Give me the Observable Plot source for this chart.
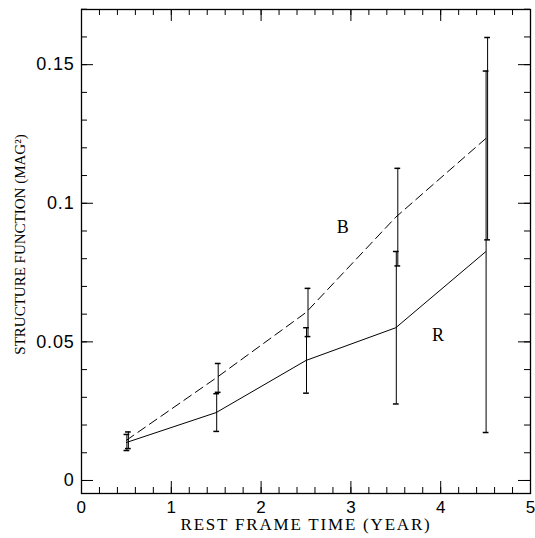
<!DOCTYPE html>
<html>
<head>
<meta charset="utf-8">
<script src="https://cdn.jsdelivr.net/npm/d3@7"></script>
<script src="https://cdn.jsdelivr.net/npm/@observablehq/plot@0.6"></script>
<style>
  html, body { margin: 0; padding: 0; background: #fff; }
  #chart { width: 535px; height: 538px; }
</style>
</head>
<body>
<div id="chart"></div>
<script>
// ---- data ----
const times = [0.5, 1.5, 2.5, 3.5, 4.5];            // rest-frame time (year)
const rSF   = [0.0137, 0.0245, 0.0433, 0.0551, 0.0825];
const rErr  = [0.0029, 0.0068, 0.0118, 0.0275, 0.0652];
const bSF   = [0.0145, 0.0370, 0.0606, 0.0950, 0.1233];
const bErr  = [0.0030, 0.0052, 0.0087, 0.0176, 0.0365];
const xMajor = [0, 1, 2, 3, 4, 5];
const yMajor = [0, 0.05, 0.1, 0.15];
const xMinor = d3.range(0, 5.0001, 0.2).map(v => +v.toFixed(2));
const yMinor = d3.range(0, 0.1701, 0.01).map(v => +v.toFixed(3));
const seriesLabels = [
  {name: "B", x: 2.91, y: 0.0913},
  {name: "R", x: 3.97, y: 0.0523}
];
const xTitle = "REST FRAME TIME (YEAR)";
const yTitle = "STRUCTURE FUNCTION (MAG²)";

const R = times.map((t, i) => ({t, v: rSF[i], lo: rSF[i] - rErr[i], hi: rSF[i] + rErr[i]}));
const B = times.map((t, i) => ({t, v: bSF[i], lo: bSF[i] - bErr[i], hi: bSF[i] + bErr[i]}));

// ---- layout ----
const W = 535, H = 538;
const mL = 81, mR = 5, mT = 9, mB = 45;
const frameW = W - mL - mR, frameH = H - mT - mB;
const majorLen = 12, minorLen = 6;
const capHalf = 0.032;
const sans = "'Liberation Sans', Arial, sans-serif";
const serif = "'Liberation Serif', 'Times New Roman', serif";

const ticksX = (vals, len) => [
  Plot.tickX(vals, {x: d => d, stroke: "black", insetTop: frameH - len}),
  Plot.tickX(vals, {x: d => d, stroke: "black", insetBottom: frameH - len})
];
const ticksY = (vals, len) => [
  Plot.tickY(vals, {y: d => d, stroke: "black", insetRight: frameW - len}),
  Plot.tickY(vals, {y: d => d, stroke: "black", insetLeft: frameW - len})
];
const errorBars = (data, dx) => [
  Plot.ruleX(data, {x: "t", y1: "lo", y2: "hi", stroke: "black", dx}),
  Plot.ruleY(data, {y: "lo", x1: d => d.t - capHalf, x2: d => d.t + capHalf, stroke: "black", strokeWidth: 1.5, dx}),
  Plot.ruleY(data, {y: "hi", x1: d => d.t - capHalf, x2: d => d.t + capHalf, stroke: "black", strokeWidth: 1.5, dx})
];

const chart = Plot.plot({
  width: W, height: H,
  marginLeft: mL, marginRight: mR, marginTop: mT, marginBottom: mB,
  x: {domain: [0, 5]},
  y: {domain: [-0.0047, 0.1699]},
  style: {background: "white", color: "black"},
  marks: [
    ...ticksX(xMinor, minorLen),
    ...ticksX(xMajor, majorLen),
    ...ticksY(yMinor, minorLen),
    ...ticksY(yMajor, majorLen),
    Plot.frame({stroke: "black", strokeWidth: 1.3}),
    Plot.axisX({ticks: xMajor, tickSize: 0, tickPadding: 7, tickFormat: d3.format("d"), label: null, fontSize: 17, fontFamily: sans}),
    Plot.axisY({ticks: yMajor, tickSize: 0, tickPadding: 7, tickFormat: d => d3.format("")(d), label: null, fontSize: 18, fontFamily: sans}),
    Plot.text([xTitle], {frameAnchor: "bottom", dy: 31, lineAnchor: "middle", textAnchor: "middle", text: d => d, fontSize: 17, fontFamily: serif, fill: "black"}),
    Plot.text([yTitle], {frameAnchor: "left", dx: -61, dy: -7, rotate: -90, lineAnchor: "middle", textAnchor: "middle", text: d => d, fontSize: 15, fontFamily: serif, fill: "black"}),
    ...errorBars(R, 0.5),
    ...errorBars(B, 2),
    Plot.line(R, {x: "t", y: "v", stroke: "black", strokeWidth: 1}),
    Plot.line(B, {x: "t", y: "v", stroke: "black", strokeWidth: 1, strokeDasharray: "9,5"}),
    Plot.text(seriesLabels, {x: "x", y: "y", text: "name", fontSize: 18, fontFamily: serif, fill: "black"})
  ]
});
// widen the PGPLOT-style lettering of the axis titles and y tick labels
d3.select(chart).selectAll("text").each(function () {
  const t = this.textContent;
  if (t === xTitle) this.style.letterSpacing = "1.8px";
  else if (yMajor.map(d3.format("")).includes(t)) this.style.letterSpacing = "0.8px";
});
document.getElementById("chart").appendChild(chart);
</script>
</body>
</html>
